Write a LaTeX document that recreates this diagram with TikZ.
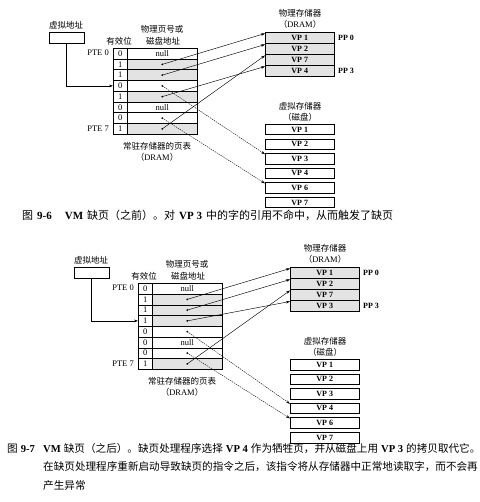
\documentclass[tikz,border=0pt]{standalone}
\usepackage{fontspec}
\setmainfont{Liberation Serif}
\newfontfamily\cjk{Noto Sans CJK SC}
\usetikzlibrary{arrows.meta}
\begin{document}
\begin{tikzpicture}[x=1pt,y=-1pt,
  lab/.style={inner sep=0pt, font=\cjk\fontsize{8.5}{9}\selectfont},
  lat/.style={inner sep=0pt, font=\fontsize{8.5}{9}\selectfont},
  vcell/.style={draw, line width=0.5pt, minimum width=14pt, minimum height=10.75pt, inner sep=0pt, anchor=north west, font=\fontsize{8.5}{9}\selectfont},
  acell/.style={draw, line width=0.5pt, minimum width=70pt, minimum height=10.75pt, inner sep=0pt, anchor=north west},
  pcell/.style={draw, line width=0.5pt, fill=gray!22, minimum width=69pt, minimum height=11pt, inner sep=0pt, anchor=north west, font=\bfseries\fontsize{8}{9}\selectfont},
  dcell/.style={draw, line width=0.5pt, minimum width=69pt, minimum height=10.5pt, inner sep=0pt, anchor=north west, font=\bfseries\fontsize{8}{9}\selectfont},
  vabox/.style={draw, line width=0.5pt, minimum width=35pt, minimum height=11pt, inner sep=0pt},
  dot/.style={circle, fill, inner sep=0pt, minimum size=1.8pt},
  arr/.style={line width=0.45pt, -{Stealth[length=4pt,width=2.6pt]}},
  darr/.style={line width=0.4pt, dash pattern=on 1.4pt off 0.9pt, -{Stealth[length=4pt,width=2.6pt]}},
  capt/.style={inner sep=0pt, anchor=west, font=\fontsize{11}{13}\selectfont},
  captb/.style={inner sep=0pt, anchor=west, font=\fontsize{10.6}{13}\selectfont}
]
\useasboundingbox (0,0) rectangle (479,502);

% ================= Figure 9-6 =================
\begin{scope}
  \node[lab] (a-valab) at (66,25) {虚拟地址};
  \node[vabox] (a-va) at (66.5,37.5) {};
  \node[lab] (a-h1) at (119,41) {有效位};
  \node[lab] (a-h2) at (162,29) {物理页号或};
  \node[lab] (a-h3) at (163,41) {磁盘地址};
  \node[lat, anchor=east] (a-pte0) at (109,53) {PTE 0};
  \node[lat, anchor=east] (a-pte7) at (109,129) {PTE 7};
  \foreach \i/\v/\f in {0/0/white,1/1/gray!22,2/1/gray!22,3/0/white,4/1/gray!22,5/0/white,6/0/white,7/1/gray!22}{
    \node[vcell] (a-v\i) at (113,{48+\i*10.75}) {\v};
    \node[acell, fill=\f] (a-a\i) at (127,{48+\i*10.75}) {};
  }
  \node[lat] (a-n0) at (a-a0.center) {null};
  \node[lat] (a-n5) at (a-a5.center) {null};
  \foreach \i in {1,2,3,4,6,7}{ \node[dot] (a-d\i) at (a-a\i.center) {}; }
  \node[lab] (a-pt1) at (157,146) {常驻存储器的页表};
  \node[lat] (a-pt2) at (157,157) {{\cjk （}DRAM{\cjk ）}};

  \node[lab] (a-pm1) at (300,13) {物理存储器};
  \node[lat] (a-pm2) at (300,24) {{\cjk （}DRAM{\cjk ）}};
  \foreach \j/\t in {0/VP 1,1/VP 2,2/VP 7,3/VP 4}{
    \node[pcell] (a-p\j) at (265,{32+\j*11}) {\t};
  }
  \node[lat, anchor=west, font=\bfseries\fontsize{8}{9}\selectfont] (a-pp0) at (338,37.5) {PP 0};
  \node[lat, anchor=west, font=\bfseries\fontsize{8}{9}\selectfont] (a-pp3) at (338,70.5) {PP 3};

  \node[lab] (a-dm1) at (300,106) {虚拟存储器};
  \node[lab] (a-dm2) at (300,117) {（磁盘）};
  \foreach \k/\t in {0/VP 1,1/VP 2,2/VP 3,3/VP 4,4/VP 6,5/VP 7}{
    \node[dcell] (a-k\k) at (265,{124+\k*14.6}) {\t};
  }

  \draw[arr] (a-va.south) |- (a-v3.west);
  \draw[arr] (a-d1.center) -- ([yshift=-1.5pt]a-p0.north west);
  \draw[arr] (a-d2.center) -- ([yshift=-1.5pt]a-p1.north west);
  \draw[arr] (a-d4.center) -- ([yshift=-1.5pt]a-p3.north west);
  \draw[arr] (a-d7.center) -- ([yshift=-1.5pt]a-p2.north west);
  \draw[darr] (a-d3.center) -- ([yshift=-1pt]a-k2.north west);
  \draw[darr] (a-d6.center) -- ([yshift=-1pt]a-k4.north west);
\end{scope}

\node[capt] (cap1) at (22,215) {{\cjk 图}\hspace{4pt}\textbf{9-6}\hspace{13pt}\textbf{VM}\hspace{4pt}{\cjk 缺页（之前）。对}\hspace{4pt}\textbf{VP 3}\hspace{4pt}{\cjk 中的字的引用不命中，从而触发了缺页}};

% ================= Figure 9-7 =================
\begin{scope}[shift={(25,235)}]
  \node[lab] (b-valab) at (66,25) {虚拟地址};
  \node[vabox] (b-va) at (66.5,37.5) {};
  \node[lab] (b-h1) at (119,41) {有效位};
  \node[lab] (b-h2) at (162,29) {物理页号或};
  \node[lab] (b-h3) at (163,41) {磁盘地址};
  \node[lat, anchor=east] (b-pte0) at (109,53) {PTE 0};
  \node[lat, anchor=east] (b-pte7) at (109,129) {PTE 7};
  \foreach \i/\v/\f in {0/0/white,1/1/gray!22,2/1/gray!22,3/1/gray!22,4/0/white,5/0/white,6/0/white,7/1/gray!22}{
    \node[vcell] (b-v\i) at (113,{48+\i*10.75}) {\v};
    \node[acell, fill=\f] (b-a\i) at (127,{48+\i*10.75}) {};
  }
  \node[lat] (b-n0) at (b-a0.center) {null};
  \node[lat] (b-n5) at (b-a5.center) {null};
  \foreach \i in {1,2,3,4,6,7}{ \node[dot] (b-d\i) at (b-a\i.center) {}; }
  \node[lab] (b-pt1) at (157,146) {常驻存储器的页表};
  \node[lat] (b-pt2) at (157,157) {{\cjk （}DRAM{\cjk ）}};

  \node[lab] (b-pm1) at (300,13) {物理存储器};
  \node[lat] (b-pm2) at (300,24) {{\cjk （}DRAM{\cjk ）}};
  \foreach \j/\t in {0/VP 1,1/VP 2,2/VP 7,3/VP 3}{
    \node[pcell] (b-p\j) at (265,{32+\j*11}) {\t};
  }
  \node[lat, anchor=west, font=\bfseries\fontsize{8}{9}\selectfont] (b-pp0) at (338,37.5) {PP 0};
  \node[lat, anchor=west, font=\bfseries\fontsize{8}{9}\selectfont] (b-pp3) at (338,70.5) {PP 3};

  \node[lab] (b-dm1) at (300,106) {虚拟存储器};
  \node[lab] (b-dm2) at (300,117) {（磁盘）};
  \foreach \k/\t in {0/VP 1,1/VP 2,2/VP 3,3/VP 4,4/VP 6,5/VP 7}{
    \node[dcell] (b-k\k) at (265,{124+\k*14.6}) {\t};
  }

  \draw[arr] (b-va.south) |- (b-v3.west);
  \draw[arr] (b-d1.center) -- ([yshift=-1.5pt]b-p0.north west);
  \draw[arr] (b-d2.center) -- ([yshift=-1.5pt]b-p1.north west);
  \draw[arr] (b-d3.center) -- ([yshift=-1.5pt]b-p3.north west);
  \draw[arr] (b-d7.center) -- ([yshift=-1.5pt]b-p2.north west);
  \draw[darr] (b-d4.center) -- ([yshift=-1pt]b-k3.north west);
  \draw[darr] (b-d6.center) -- ([yshift=-1pt]b-k4.north west);
\end{scope}

\node[captb] (cap2a) at (7,449) {{\cjk 图}\hspace{3pt}\textbf{9-7}};
\node[captb] (cap2b) at (43,449) {\textbf{VM}\hspace{3pt}{\cjk 缺页（之后）。缺页处理程序选择}\hspace{3pt}\textbf{VP 4}\hspace{3pt}{\cjk 作为牺牲页，并从磁盘上用}\hspace{3pt}\textbf{VP 3}\hspace{3pt}{\cjk 的拷贝取代它。}};
\node[captb] (cap2c) at (43,467) {\cjk 在缺页处理程序重新启动导致缺页的指令之后，该指令将从存储器中正常地读取字，而不会再};
\node[captb] (cap2d) at (43,485) {\cjk 产生异常};
\end{tikzpicture}
\end{document}
